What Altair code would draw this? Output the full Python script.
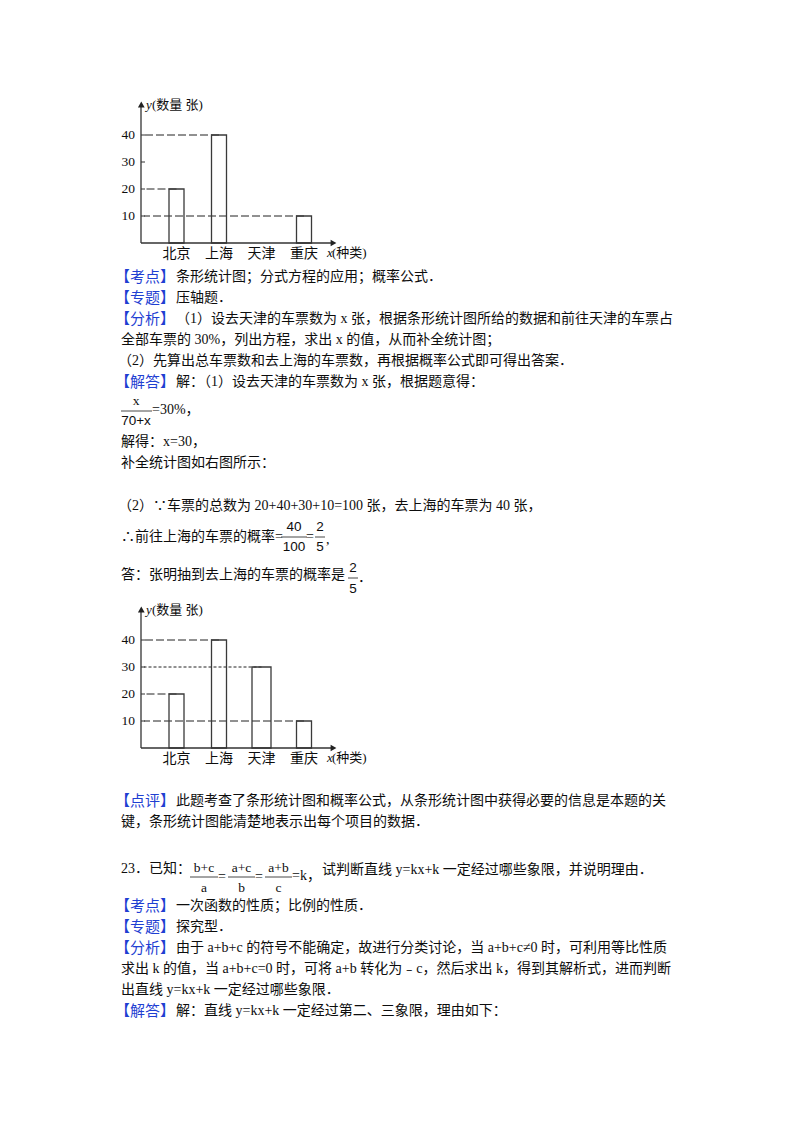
import altair as alt
import pandas as pd

# ---------------- data ----------------
CATEGORIES = ["北京", "上海", "天津", "重庆"]
COUNTS_BEFORE = [20, 40, 0, 10]     # first (incomplete) chart
COUNTS_AFTER = [20, 40, 30, 10]     # completed chart
TICKS = [10, 20, 30, 40]
Y_TITLE = ["y", "(数量 张)"]
X_TITLE = ["x", "(种类)"]

TAGS = ["【考点】", "【专题】", "【分析】", "【解答】", "【点评】",
        "【考点】", "【专题】", "【分析】", "【解答】"]

LINES = [
    "条形统计图；分式方程的应用；概率公式．",
    "压轴题．",
    "（1）设去天津的车票数为 x 张，根据条形统计图所给的数据和前往天津的车票占",
    "全部车票的 30%，列出方程，求出 x 的值，从而补全统计图；",
    "（2）先算出总车票数和去上海的车票数，再根据概率公式即可得出答案．",
    "解：（1）设去天津的车票数为 x 张，根据题意得：",
    "=30%，",
    "解得：x=30，",
    "补全统计图如右图所示：",
    "（2）∵车票的总数为 20+40+30+10=100 张，去上海的车票为 40 张，",
    "∴前往上海的车票的概率=",
    "=",
    ",",
    "答：张明抽到去上海的车票的概率是",
    "．",
    "此题考查了条形统计图和概率公式，从条形统计图中获得必要的信息是本题的关",
    "键，条形统计图能清楚地表示出每个项目的数据．",
    "23．已知：",
    "=",
    "=",
    "=k，",
    "试判断直线 y=kx+k 一定经过哪些象限，并说明理由．",
    "一次函数的性质；比例的性质．",
    "探究型．",
    "由于 a+b+c 的符号不能确定，故进行分类讨论，当 a+b+c≠0 时，可利用等比性质",
    "求出 k 的值，当 a+b+c=0 时，可将 a+b 转化为﹣c，然后求出 k，得到其解析式，进而判断",
    "出直线 y=kx+k 一定经过哪些象限．",
    "解：直线 y=kx+k 一定经过第二、三象限，理由如下：",
]

FRAC_NUM = ["x", "40", "2", "2", "b+c", "a+c", "a+b"]
FRAC_DEN = ["70+x", "100", "5", "5", "a", "b", "c"]

# ---------------- layout (page pixels) ----------------
def P(v):
    return v - 8  # page coordinate -> chart coordinate (8px body margin)

BODY_FONT = "Liberation Serif, Noto Sans CJK SC"
CJK_FONT = "Noto Sans CJK SC"
BLUE = "#1f3fd2"
INK = "#0d0d0d"

TAG_Y = [277, 298, 319, 382, 801, 906, 927, 948, 1011]
TAG_X = 115
TAG_REST_X = 176

LINE_POS = [
    (TAG_REST_X, 277), (TAG_REST_X, 298), (TAG_REST_X, 319),
    (121, 340), (118, 361), (TAG_REST_X, 382),
    (152, 410), (121, 442), (121, 463),
    (118, 506), (121, 537), (306, 537), (326, 540),
    (121, 575), (358, 578),
    (TAG_REST_X, 801), (121, 822),
    (121, 869), (218, 877), (255, 877), (292, 876), (322, 870),
    (TAG_REST_X, 906), (TAG_REST_X, 927), (TAG_REST_X, 948),
    (121, 969), (121, 990), (TAG_REST_X, 1011),
]

# fraction: centre x, numerator y, bar y, denominator y, bar x1, bar x2
FRAC_POS = [
    (136, 401, 411, 421, 121, 152),
    (294, 527, 537, 547, 281, 307),
    (320, 527, 537, 547, 315, 325),
    (353, 568, 578, 589, 348, 358),
    (204, 868, 877, 888, 190, 218),
    (241.5, 868, 877, 888, 228, 255),
    (278.5, 868, 877, 888, 265, 292),
]
FRAC_SANS = {0: "den", 1: "both", 2: "both", 3: "both"}

layers = []

# ---- tags (blue) ----
tag_df = pd.DataFrame({"x": [P(TAG_X)] * len(TAGS), "y": [P(v) for v in TAG_Y], "t": TAGS})
layers.append(
    alt.Chart(tag_df).mark_text(align="left", baseline="middle", font=CJK_FONT, fontSize=15, color=BLUE)
    .encode(x=alt.X("x:Q", scale=None, axis=None), y=alt.Y("y:Q", scale=None, axis=None), text="t:N")
)

# ---- body lines ----
body_df = pd.DataFrame({
    "x": [P(p[0]) for p in LINE_POS],
    "y": [P(p[1]) for p in LINE_POS],
    "t": LINES,
})
layers.append(
    alt.Chart(body_df).mark_text(align="left", baseline="middle", font=BODY_FONT, fontSize=14, color=INK)
    .encode(x=alt.X("x:Q", scale=None, axis=None), y=alt.Y("y:Q", scale=None, axis=None), text="t:N")
)

# ---- fractions ----
serif_rows, sans_rows, bar_rows = [], [], []
for i, (cx, ny, by, dy, bx1, bx2) in enumerate(FRAC_POS):
    mode = FRAC_SANS.get(i, "none")
    (sans_rows if mode == "both" else serif_rows).append({"x": P(cx), "y": P(ny), "t": FRAC_NUM[i]})
    (sans_rows if mode in ("both", "den") else serif_rows).append({"x": P(cx), "y": P(dy), "t": FRAC_DEN[i]})
    bar_rows.append({"x1": P(bx1), "x2": P(bx2), "y": P(by)})

layers.append(
    alt.Chart(pd.DataFrame(serif_rows)).mark_text(align="center", baseline="middle", font="Liberation Serif", fontSize=13.5, color=INK)
    .encode(x=alt.X("x:Q", scale=None, axis=None), y=alt.Y("y:Q", scale=None, axis=None), text="t:N")
)
layers.append(
    alt.Chart(pd.DataFrame(sans_rows)).mark_text(align="center", baseline="middle", font="Liberation Sans", fontSize=13.5, color=INK)
    .encode(x=alt.X("x:Q", scale=None, axis=None), y=alt.Y("y:Q", scale=None, axis=None), text="t:N")
)
layers.append(
    alt.Chart(pd.DataFrame(bar_rows)).mark_rule(color="#333333", strokeWidth=0.9)
    .encode(x=alt.X("x1:Q", scale=None, axis=None), x2="x2:Q", y=alt.Y("y:Q", scale=None, axis=None))
)


# ---------------- bar charts ----------------
def bar_chart_layers(values, dy, completed):
    out = []
    yscale = alt.Scale(domain=[0, 40], range=[P(243 + dy), P(135 + dy)], nice=False, zero=True)
    xscale = alt.Scale(type="point", domain=CATEGORIES, range=[P(176.5), P(304)], padding=0)
    df = pd.DataFrame({"cat": CATEGORIES, "val": values})
    dpos = df[df["val"] > 0]
    one = pd.DataFrame({"k": [0]})

    # dashed guide lines from the axis to each bar top
    if completed:
        dash = alt.condition(alt.datum.val == 30, alt.value([3, 2]), alt.value([8, 3]))
    else:
        dash = alt.value([8, 3])
    out.append(
        alt.Chart(dpos).mark_rule(color="#222222", strokeWidth=1)
        .encode(
            x=alt.X("cat:N", scale=xscale, axis=None),
            x2=alt.value(P(144)),
            y=alt.Y("val:Q", scale=yscale, axis=None),
            strokeDash=dash,
        )
    )
    # bars (outlined)
    if completed:
        size = alt.condition(alt.datum.cat == "天津", alt.value(19), alt.value(15))
    else:
        size = alt.value(15)
    out.append(
        alt.Chart(dpos).mark_bar(fillOpacity=0, stroke="#3a3a3a", strokeWidth=1.3)
        .encode(
            x=alt.X("cat:N", scale=xscale, axis=None),
            y=alt.Y("val:Q", scale=yscale, axis=None),
            size=size,
        )
    )
    # y tick marks and labels
    tdf = pd.DataFrame({"t": TICKS})
    out.append(
        alt.Chart(tdf).mark_rule(color="#333333", strokeWidth=1)
        .encode(x=alt.value(P(141)), x2=alt.value(P(145)), y=alt.Y("t:Q", scale=yscale, axis=None))
    )
    out.append(
        alt.Chart(tdf).mark_text(align="right", baseline="middle", font="Liberation Serif", fontSize=13.5, color=INK)
        .encode(x=alt.value(P(135)), y=alt.Y("t:Q", scale=yscale, axis=None), text="t:Q")
    )
    # axes
    out.append(
        alt.Chart(one).mark_rule(color="#333333", strokeWidth=1.3)
        .encode(x=alt.value(P(141)), y=alt.value(P(243 + dy)), y2=alt.value(P(106 + dy)))
    )
    out.append(
        alt.Chart(one).mark_rule(color="#333333", strokeWidth=1.3)
        .encode(x=alt.value(P(141)), x2=alt.value(P(331)), y=alt.value(P(243 + dy)))
    )
    out.append(
        alt.Chart(one).mark_point(shape="triangle-up", filled=True, size=45, color="#222222", opacity=1)
        .encode(x=alt.value(P(141.3)), y=alt.value(P(104.5 + dy)))
    )
    out.append(
        alt.Chart(one).mark_point(shape="triangle-right", filled=True, size=45, color="#222222", opacity=1)
        .encode(x=alt.value(P(333.5)), y=alt.value(P(243 + dy)))
    )
    # category labels
    out.append(
        alt.Chart(df).mark_text(align="center", baseline="middle", font=CJK_FONT, fontSize=14, color=INK)
        .encode(x=alt.X("cat:N", scale=xscale, axis=None), y=alt.value(P(253.5 + dy)), text="cat:N")
    )
    # axis titles
    tt = pd.DataFrame({
        "x": [P(146), P(327)],
        "y": [P(105 + dy), P(253 + dy)],
        "t": [Y_TITLE[0], X_TITLE[0]],
    })
    out.append(
        alt.Chart(tt).mark_text(align="left", baseline="middle", font="Liberation Serif", fontStyle="italic", fontSize=13, color=INK)
        .encode(x=alt.X("x:Q", scale=None, axis=None), y=alt.Y("y:Q", scale=None, axis=None), text="t:N")
    )
    tt2 = pd.DataFrame({
        "x": [P(152), P(332)],
        "y": [P(105 + dy), P(253 + dy)],
        "t": [Y_TITLE[1], X_TITLE[1]],
    })
    out.append(
        alt.Chart(tt2).mark_text(align="left", baseline="middle", font=BODY_FONT, fontSize=13, color=INK)
        .encode(x=alt.X("x:Q", scale=None, axis=None), y=alt.Y("y:Q", scale=None, axis=None), text="t:N")
    )
    return out


layers += bar_chart_layers(COUNTS_BEFORE, 0, False)
layers += bar_chart_layers(COUNTS_AFTER, 505, True)

chart = (
    alt.layer(*layers)
    .resolve_scale(x="independent", y="independent")
    .properties(width=784, height=1110, autosize=alt.AutoSizeParams(type="none"), padding=0, background="white")
    .configure_view(strokeWidth=0)
)

chart.save("out.html", embed_options={"renderer": "svg", "actions": False})
